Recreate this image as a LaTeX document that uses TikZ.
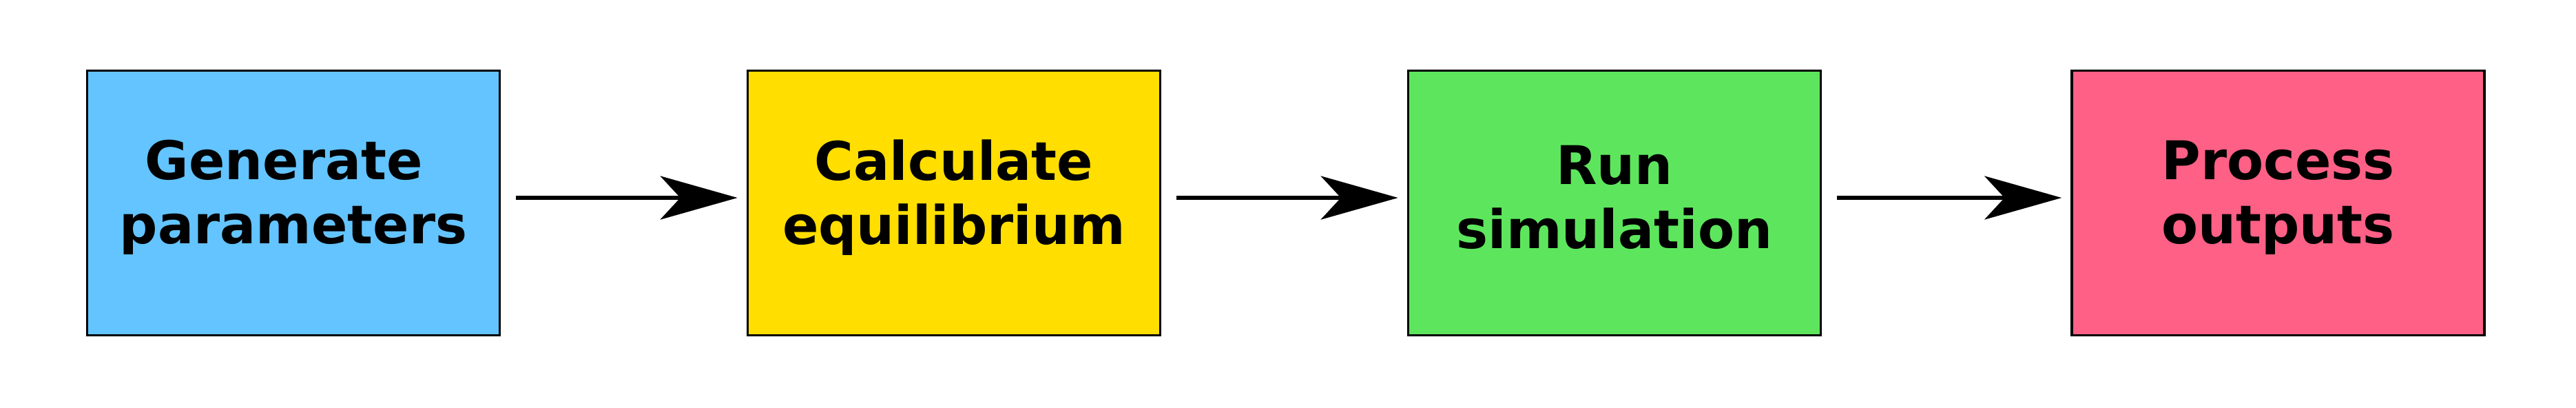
\documentclass[tikz,border=0pt]{standalone}
\usepackage{fontspec}
\setmainfont{DejaVu Sans}
\usepackage{tikz}
\usetikzlibrary{positioning,arrows.meta}

\definecolor{genblue}{RGB}{99,196,255}
\definecolor{calcyellow}{RGB}{255,222,0}
\definecolor{rungreen}{RGB}{93,230,93}
\definecolor{procpink}{RGB}{255,96,134}

\begin{document}
\begin{tikzpicture}[
    stage/.style={draw=black, line width=1pt, minimum width=5.99cm, minimum height=3.84cm,
        inner sep=0pt, align=center, font=\fontsize{22}{26.5}\selectfont\bfseries},
    stagetext/.style={yshift=0.08cm},
    flow/.style={-{Stealth[length=1.12cm, width=0.63cm, inset=0.29cm]}, line width=1.9pt},
]
\useasboundingbox (0,0) rectangle (37.40,5.91);

% Stages
\node[stage, fill=genblue] (gen) at (4.26,2.965) {};
\node[stage, fill=calcyellow, right=3.565cm of gen] (calc) {};
\node[stage, fill=rungreen, right=3.565cm of calc] (run) {};
\node[stage, fill=procpink, right=3.61cm of run] (proc) {};

% Stage labels
\node[stage, draw=none, stagetext] (gentext) at (gen) {Generate\hspace*{0.35em}\\parameters};
\node[stage, draw=none, stagetext] (calctext) at (calc) {Calculate\\equilibrium};
\node[stage, draw=none, stagetext] (runtext) at (run) {Run\\simulation};
\node[stage, draw=none, stagetext] (proctext) at (proc) {Process\\outputs};

% Arrows between stages
\draw[flow] ([xshift=0.22cm, yshift=0.075cm]gen.east) -- ([xshift=-0.13cm, yshift=0.075cm]calc.west);
\draw[flow] ([xshift=0.22cm, yshift=0.075cm]calc.east) -- ([xshift=-0.13cm, yshift=0.075cm]run.west);
\draw[flow] ([xshift=0.22cm, yshift=0.075cm]run.east) -- ([xshift=-0.13cm, yshift=0.075cm]proc.west);
\end{tikzpicture}
\end{document}
